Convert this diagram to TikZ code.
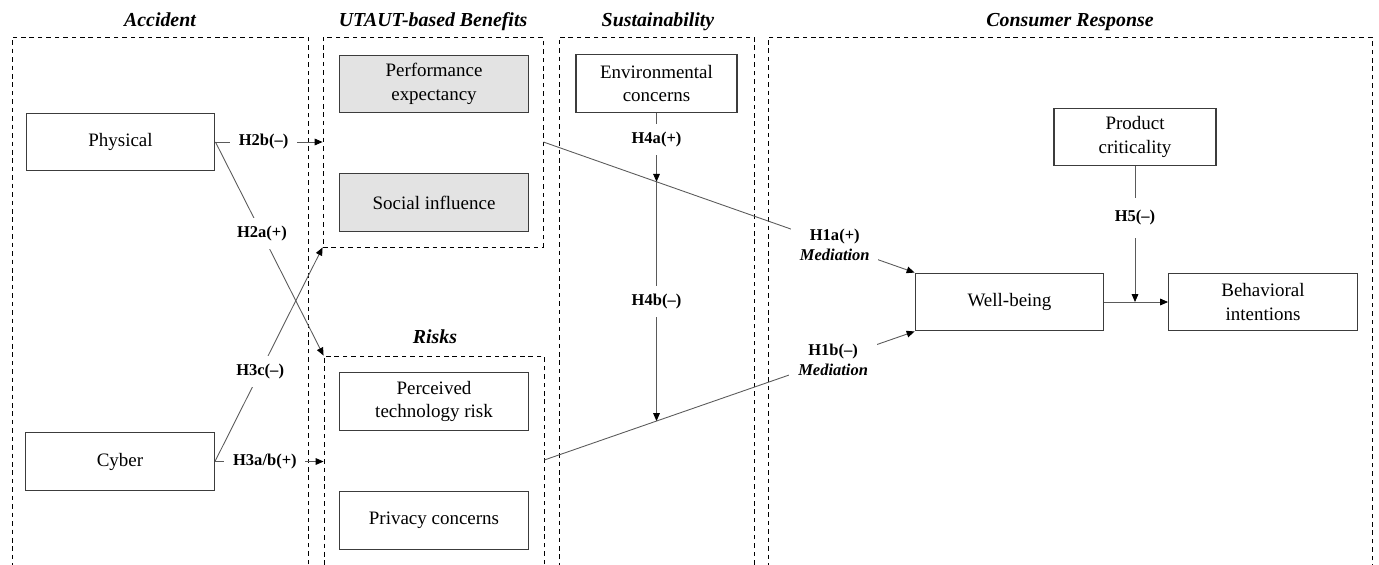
\documentclass[tikz,border=0pt]{standalone}
\usepackage{fontspec}
\setmainfont{Liberation Serif}
\usetikzlibrary{arrows.meta,positioning,calc}
\definecolor{LinkGray}{HTML}{5A5A5A}
\definecolor{BoxEdge}{HTML}{3C3C3C}
\definecolor{BenefitFill}{HTML}{E3E3E3}

\begin{document}
\begin{tikzpicture}[>={Triangle[length=4.5pt,width=3.8pt,color=black]},
  construct/.style={draw=BoxEdge, line width=0.8pt, minimum width=3.77cm, minimum height=1.15cm, align=center, inner sep=2pt, font=\fontsize{10.8}{13.6}\selectfont},
  benefit/.style={construct, fill=BenefitFill},
  group/.style={draw, dash pattern=on 2.6pt off 2.2pt, line width=0.5pt, inner sep=0pt},
  grouptitle/.style={font=\fontsize{11.3}{13}\selectfont\bfseries\itshape, anchor=base},
  link/.style={->, draw=LinkGray, line width=0.5pt},
  hyp/.style={fill=white, font=\fontsize{9.4}{11.4}\selectfont\bfseries, inner xsep=5pt, inner ysep=4.5pt, align=center}]

\useasboundingbox (0,0) rectangle (27.58,-11.28);

% dashed blocks (they run on past the lower edge)
\node[group, minimum width=5.92cm, minimum height=10.70cm] (accident) at (3.20,-6.09) {};
\node[group, minimum width=4.40cm, minimum height=4.20cm] (benefits) at (8.66,-2.84) {};
\node[group, minimum width=4.40cm, minimum height=4.32cm] (risks) at (8.68,-9.28) {};
\node[group, minimum width=3.90cm, minimum height=10.70cm] (sustain) at (13.13,-6.09) {};
\node[group, minimum width=12.08cm, minimum height=10.70cm] (consumer) at (21.40,-6.09) {};

\node[grouptitle] at (3.20,-0.53) {Accident};
\node[grouptitle] at (8.66,-0.53) {UTAUT-based Benefits};
\node[grouptitle] at (8.70,-6.87) {Risks};
\node[grouptitle] at (13.16,-0.53) {Sustainability};
\node[grouptitle] at (21.40,-0.53) {Consumer Response};

% constructs
\node[construct] (physical) at (2.41,-2.84) {Physical};
\node[construct] (cyber) at (2.40,-9.23) {Cyber};
\node[benefit] (perf) at (8.68,-1.68) {Performance\\expectancy};
\node[benefit] (social) at (8.68,-4.05) {Social influence};
\node[construct] (ptr) at (8.68,-8.03) {Perceived\\technology risk};
\node[construct] (privacy) at (8.68,-10.41) {Privacy concerns};
\node[construct, minimum width=3.22cm] (env) at (13.13,-1.67) {Environmental\\concerns};
\node[construct, minimum width=3.24cm] (product) at (22.70,-2.74) {Product\\criticality};
\node[construct] (wellbeing) at (20.19,-6.04) {Well-being};
\node[construct] (behav) at (25.26,-6.04) {Behavioral\\intentions};

% hypotheses
\draw[link] (physical.east) -- node[hyp, pos=0.45] {H2b(--)} (physical -| benefits.west);
\draw[link] (physical.east) -- node[hyp, pos=0.43] {H2a(+)} (risks.north west);
\draw[link] (cyber.east) -- node[hyp, pos=0.42] {H3c(--)} (benefits.south west);
\draw[link] (cyber.east) -- node[hyp, pos=0.46] {H3a/b(+)} (cyber -| risks.west);

\draw[link] (benefits.east) -- node[hyp, pos=0.785] {H1a(+)\\\textit{Mediation}} (wellbeing.north west);
\draw[link] (risks.east |- ptr.south) ++(0,-0.58) coordinate (rsk) (rsk) -- node[hyp, pos=0.78] {H1b(--)\\\textit{Mediation}} (wellbeing.south west);

\coordinate (m1) at (intersection of benefits.east--wellbeing.north west and env.south--env.north);
\coordinate (m2) at (intersection of rsk--wellbeing.south west and env.south--env.north);
\draw[link] (env.south) -- node[hyp, pos=0.39] {H4a(+)} (m1);
\draw[link] (m1) -- node[hyp, pos=0.5] {H4b(--)} (m2);

\draw[link] (wellbeing) -- (behav);
\draw[link] (product.south) -- node[hyp, pos=0.38, inner ysep=7pt] {H5(--)} (product.south |- wellbeing.east);
\end{tikzpicture}
\end{document}
